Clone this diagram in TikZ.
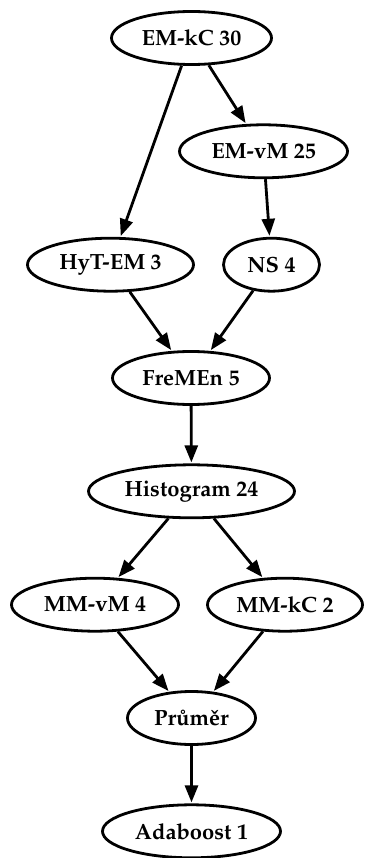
\documentclass[tikz,border=0pt]{standalone}
\usepackage[T1]{fontenc}
\usepackage{mathpazo}
\usetikzlibrary{shapes.geometric,arrows.meta}

\tikzset{
  blob/.style={draw,ellipse,line width=2.8pt,inner sep=0pt,minimum height=53pt,
    font=\fontsize{22}{26}\selectfont\bfseries},
  edge/.style={line width=2.8pt,-{Triangle[length=17pt,width=13pt]},shorten >=1pt}
}

\begin{document}
\begin{tikzpicture}[x=1pt,y=-1pt]
      \useasboundingbox (0,0) rectangle (365,858);
      \node[blob,minimum width=160pt] (emkc) at (191.5, 38) {EM-kC 30};
      \node[blob,minimum width=168pt] (emvm) at (263.5, 151.3) {EM-vM 25};
      \node[blob,minimum width=166pt] (hyt) at (110.5, 264.7) {HyT-EM 3};
      \node[blob,minimum width=96pt] (ns) at (271.5, 264.7) {NS 4};
      \node[blob,minimum width=157pt] (fremen) at (191, 378) {FreMEn 5};
      \node[blob,minimum width=206pt] (hist) at (191.5, 491.3) {Histogram 24};
      \node[blob,minimum width=167pt] (mmvm) at (95, 604.7) {MM-vM 4};
      \node[blob,minimum width=155pt] (mmkc) at (285, 604.7) {MM-kC 2};
      \node[blob,minimum width=128pt] (prumer) at (191.5, 718) {Pr\r{u}m\v{e}r};
      \node[blob,minimum width=178pt] (ada) at (191.5, 831.3) {Adaboost 1};
      \draw[edge] (emkc) to (hyt);
      \draw[edge] (emkc) to (emvm);
      \draw[edge] (emvm) to (ns);
      \draw[edge] (hyt) to (fremen);
      \draw[edge] (ns) to (fremen);
      \draw[edge] (fremen) to (hist);
      \draw[edge] (hist) to (mmvm);
      \draw[edge] (hist) to (mmkc);
      \draw[edge] (mmvm) to (prumer);
      \draw[edge] (mmkc) to (prumer);
      \draw[edge] (prumer) to (ada);
    \end{tikzpicture}
\end{document}
